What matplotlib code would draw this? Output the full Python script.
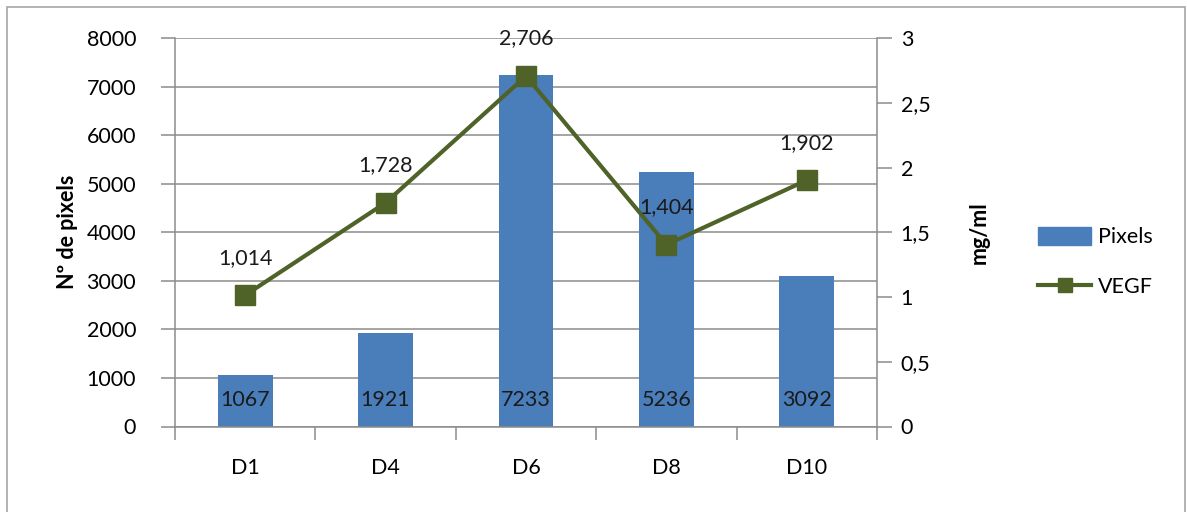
import matplotlib
matplotlib.use("Agg")
import matplotlib.pyplot as plt
from matplotlib.patches import Rectangle
from matplotlib.lines import Line2D
from matplotlib.patches import Patch
import numpy as np

categories = ["D1", "D4", "D6", "D8", "D10"]
pixels = [1067, 1921, 7233, 5236, 3092]
vegf = [1.014, 1.728, 2.706, 1.404, 1.902]
left_ticks = [0, 1000, 2000, 3000, 4000, 5000, 6000, 7000, 8000]
right_ticks = [0, 0.5, 1, 1.5, 2, 2.5, 3]
right_tick_labels = ["0", "0,5", "1", "1,5", "2", "2,5", "3"]

plt.rcParams['font.family'] = ['Lato', 'DejaVu Sans']
FS = 15.5
BAR = "#4A7EBB"
LINE = "#4F6228"
GRID = "#8C8C8C"

fig = plt.figure(figsize=(11.87, 5.12), dpi=100)
W, H = 1187, 512
fig.patches.append(Rectangle((7 / W, -0.1), (1185 - 7) / W, 1.1 - 7 / H,
                             transform=fig.transFigure, fill=False,
                             edgecolor="#A6A6A6", linewidth=1.2))

ax = fig.add_axes([175 / W, 1 - 426.5 / H, (877 - 175) / W, (426.5 - 38) / H])
x = np.arange(len(categories))
ax.bar(x, pixels, width=0.39, color=BAR, zorder=2)
ax.set_xlim(-0.5, len(categories) - 0.5)
ax.set_ylim(0, 8000)
ax.set_yticks(left_ticks)
ax.set_yticklabels([str(t) for t in left_ticks], fontsize=FS)
ax.yaxis.grid(True, color=GRID, linewidth=1.1, zorder=0)
ax.set_axisbelow(True)
ax.set_xticks(x)
ax.set_xticklabels(categories, fontsize=FS)
ax.tick_params(axis='x', which='major', length=0, pad=23)
ax.set_xticks(np.arange(-0.5, len(categories), 1.0), minor=True)
ax.tick_params(axis='x', which='minor', length=9, color=GRID, width=1.1, direction='out')
ax.tick_params(axis='y', length=10, color=GRID, width=1.1, pad=18)
for s in ["top", "right"]:
    ax.spines[s].set_visible(False)
ax.spines["left"].set_color(GRID)
ax.spines["bottom"].set_color(GRID)
ax.spines["left"].set_linewidth(1.1)
ax.spines["bottom"].set_linewidth(1.1)
ax.set_ylabel("Nº de pixels", fontsize=FS, fontweight="bold", labelpad=6)

for xi, v in zip(x, pixels):
    ax.annotate(str(v), (xi, 0), xytext=(0, 19), textcoords="offset points",
                ha="center", va="center", fontsize=FS, color="#1a1a1a", zorder=5)

ax2 = ax.twinx()
ax2.plot(x, vegf, color=LINE, linewidth=3, marker="s", markersize=14,
         markerfacecolor=LINE, markeredgecolor=LINE, zorder=3)
ax2.set_ylim(0, 3)
ax2.set_yticks(right_ticks)
ax2.set_yticklabels(right_tick_labels, fontsize=FS)
ax2.tick_params(axis='y', length=11, color=GRID, width=1.1, pad=6)
for s in ["top", "left", "bottom"]:
    ax2.spines[s].set_visible(False)
ax2.spines["right"].set_color(GRID)
ax2.spines["right"].set_linewidth(1.1)
ax2.set_ylabel("mg/ml", fontsize=FS, fontweight="bold", labelpad=28)

for xi, v in zip(x, vegf):
    ax2.annotate(f"{v:.3f}".replace(".", ","), (xi, v), xytext=(0, 27),
                 textcoords="offset points", ha="center", va="center",
                 fontsize=FS, color="#1a1a1a", zorder=6)

handles = [Patch(facecolor=BAR, edgecolor=BAR),
           Line2D([0], [0], color=LINE, linewidth=3, marker="s", markersize=10,
                  markerfacecolor=LINE)]
fig.legend(handles, ["Pixels", "VEGF"], loc="center left",
           bbox_to_anchor=(1019 / W, 1 - 262 / H), frameon=False, fontsize=FS,
           handlelength=2.45, handleheight=0.9, labelspacing=1.35, handletextpad=0.3)

fig.savefig("out.png", dpi=100)
